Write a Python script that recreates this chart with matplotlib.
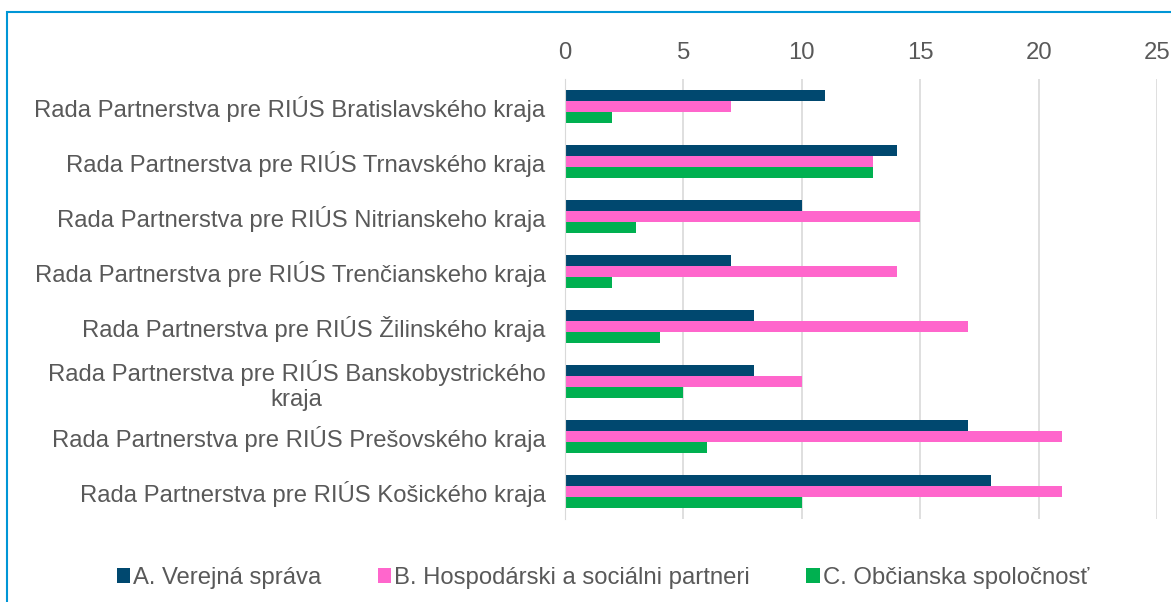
import numpy as np
import matplotlib.pyplot as plt
from matplotlib.patches import Rectangle

# Údaje
kraje = [
    "Rada Partnerstva pre RIÚS Bratislavského kraja",
    "Rada Partnerstva pre RIÚS Trnavského kraja",
    "Rada Partnerstva pre RIÚS Nitrianskeho kraja",
    "Rada Partnerstva pre RIÚS Trenčianskeho kraja",
    "Rada Partnerstva pre RIÚS Žilinského kraja",
    "Rada Partnerstva pre RIÚS Banskobystrického\nkraja",
    "Rada Partnerstva pre RIÚS Prešovského kraja",
    "Rada Partnerstva pre RIÚS Košického kraja",
]
verejna_sprava = [11, 14, 10, 7, 8, 8, 17, 18]
hosp_soc_partneri = [7, 13, 15, 14, 17, 10, 21, 21]
obcianska_spol = [2, 13, 3, 2, 4, 5, 6, 10]
x_ticks = [0, 5, 10, 15, 20, 25]

series = [
    ("A. Verejná správa", verejna_sprava, "#00486F"),
    ("B. Hospodárski a sociálni partneri", hosp_soc_partneri, "#FF66CC"),
    ("C. Občianska spoločnosť", obcianska_spol, "#00B050"),
]

plt.rcParams['font.family'] = ['Liberation Sans', 'DejaVu Sans']
text_color = "#595959"
fs = 17.2

fig = plt.figure(figsize=(11.71, 6.02), dpi=100)
ax = fig.add_axes([565 / 1171, 1 - 519 / 602, (1157 - 565) / 1171, 440 / 602])

y = np.arange(len(kraje))
h = 0.2
for i, (name, vals, col) in enumerate(series):
    ax.barh(y + (i - 1) * h, vals, height=h, color=col, label=name)

ax.set_ylim(len(kraje) - 0.5, -0.5)
ax.set_xlim(0, 25)
ax.set_xticks(x_ticks)
ax.xaxis.tick_top()
ax.tick_params(axis='x', length=0, pad=11, labelsize=fs, labelcolor=text_color)
ax.tick_params(axis='y', length=0, pad=14, labelsize=fs, labelcolor=text_color)
ax.set_yticks(y)
ax.set_yticklabels(kraje)
for lbl in ax.get_yticklabels():
    lbl.set_multialignment('center')

ax.grid(axis='x', color="#D9D9D9", linewidth=1.2)
ax.set_axisbelow(True)
for s in ['top', 'right', 'bottom']:
    ax.spines[s].set_visible(False)
ax.spines['left'].set_color("#D9D9D9")

fig.legend(loc='lower center', bbox_to_anchor=(0.515, -0.014), ncol=3, frameon=False,
           fontsize=fs, labelcolor=text_color, handlelength=0.55, handleheight=0.55,
           handletextpad=0.15, columnspacing=2.35)

# Rámček okolo grafu
fig.patches.append(Rectangle((7 / 1171, -0.1), 1.2, 1 - 12 / 602 + 0.1,
                             transform=fig.transFigure, fill=False,
                             edgecolor="#0096D6", linewidth=1.5))

fig.savefig("out.png", dpi=100)
